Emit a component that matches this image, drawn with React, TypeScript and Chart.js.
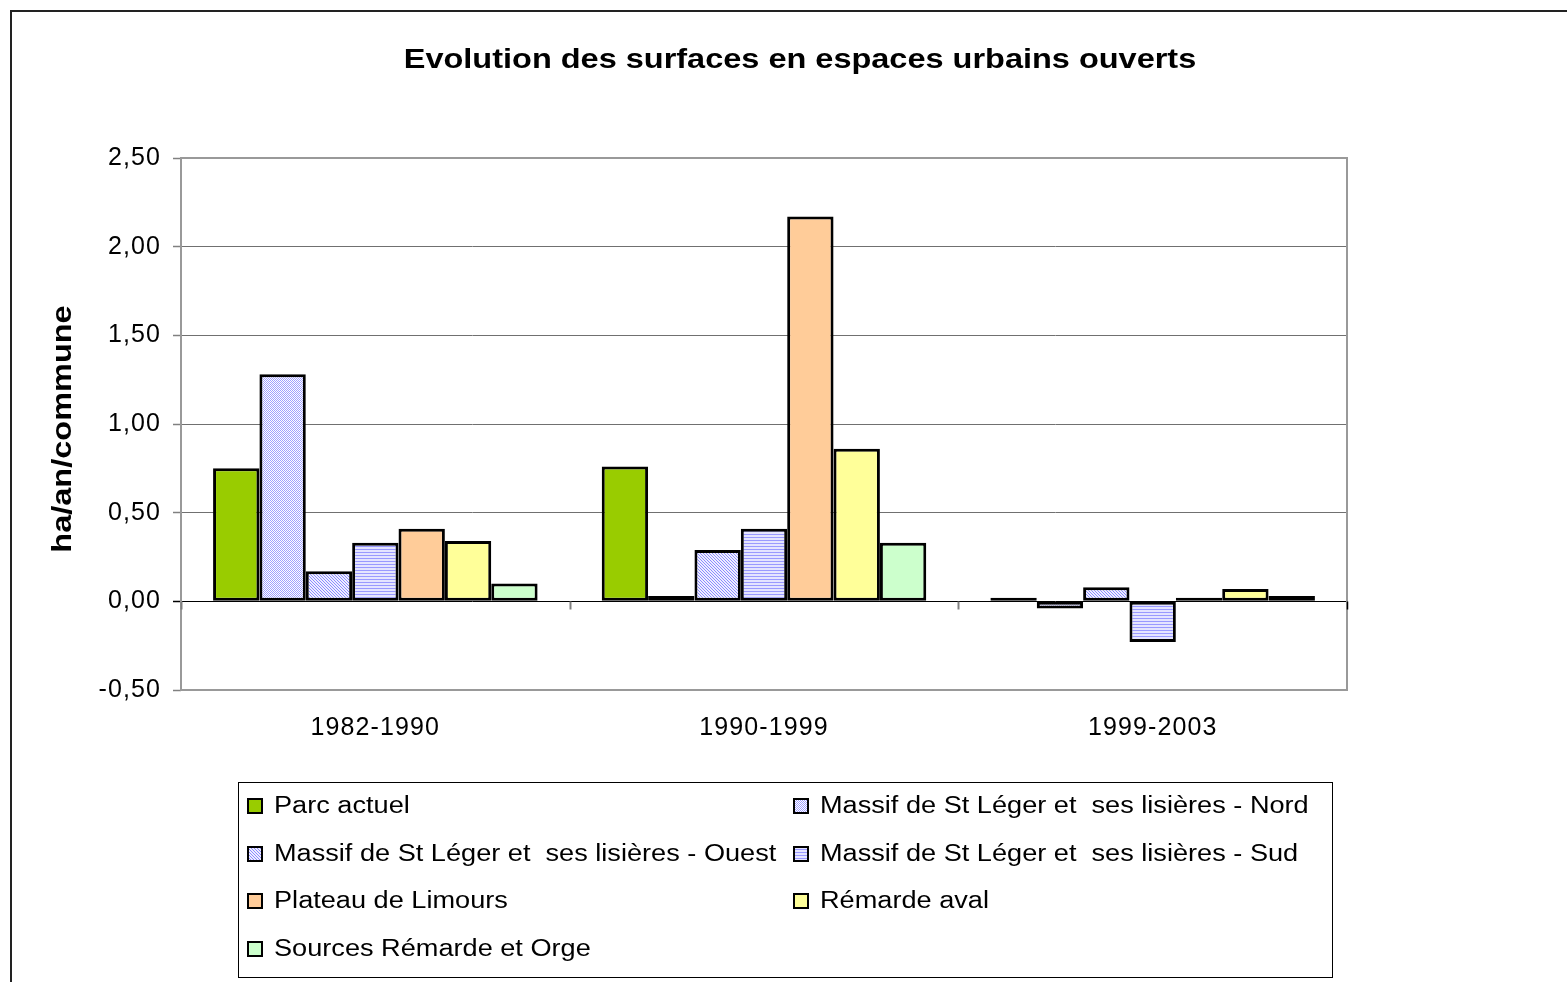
import React, { useEffect, useRef } from 'react';
import { Chart, registerables } from 'chart.js';

Chart.register(...registerables);

// ---- data ----
const categories = ['1982-1990', '1990-1999', '1999-2003'];
const seriesNames = [
  'Parc actuel',
  'Massif de St Léger et  ses lisières - Nord',
  'Massif de St Léger et  ses lisières - Ouest',
  'Massif de St Léger et  ses lisières - Sud',
  'Plateau de Limours',
  'Rémarde aval',
  'Sources Rémarde et Orge',
];
const parcActuel = [0.75, 0.76, 0.02];
const massifNord = [1.28, 0.03, -0.04];
const massifOuest = [0.17, 0.29, 0.08];
const massifSud = [0.33, 0.41, -0.23];
const plateauLimours = [0.41, 2.17, 0.02];
const remardeAval = [0.34, 0.86, 0.07];
const sourcesRemarde = [0.1, 0.33, 0.03];
const yTickValues = [-0.5, 0, 0.5, 1, 1.5, 2, 2.5];
const chartTitle = 'Evolution des surfaces en espaces urbains ouverts';
const yAxisTitle = 'ha/an/commune';

const FONT = "'Liberation Sans', Arial, sans-serif";

function makePattern(kind: string): CanvasPattern | string {
  const size = kind === 'nord' ? 2 : 3;
  const c = document.createElement('canvas');
  c.width = size;
  c.height = size;
  const g = c.getContext('2d');
  if (!g) return '#ccccff';
  if (kind === 'sud') {
    g.fillStyle = '#e4e4ff';
    g.fillRect(0, 0, size, size);
    g.fillStyle = '#9999ff';
    g.fillRect(0, 0, size, 1);
  } else if (kind === 'nord') {
    g.fillStyle = '#ffffff';
    g.fillRect(0, 0, size, size);
    g.fillStyle = '#a0a0ff';
    g.fillRect(0, 0, 1, 1);
    g.fillRect(1, 1, 1, 1);
  } else {
    g.fillStyle = '#eeeeff';
    g.fillRect(0, 0, size, size);
    g.fillStyle = '#8c8cff';
    for (let y = 0; y < size; y++) {
      for (let x = 0; x < size; x++) {
        if ((x - y + 3) % 3 === 0) g.fillRect(x, y, 1, 1);
      }
    }
  }
  const p = g.createPattern(c, 'repeat');
  return p || '#ccccff';
}

function stretchedText(ctx: CanvasRenderingContext2D, text: string, x: number, y: number, sx: number) {
  ctx.save();
  ctx.translate(x, y);
  ctx.scale(sx, 1);
  ctx.fillText(text, 0, 0);
  ctx.restore();
}

export default function App() {
  const ref = useRef<HTMLCanvasElement | null>(null);

  useEffect(() => {
    const canvas = ref.current;
    if (!canvas) return;

    const fills: (CanvasPattern | string)[] = [
      '#99cc00',
      makePattern('nord'),
      makePattern('ouest'),
      makePattern('sud'),
      '#ffcc99',
      '#ffff99',
      '#ccffcc',
    ];
    const values = [
      parcActuel,
      massifNord,
      massifOuest,
      massifSud,
      plateauLimours,
      remardeAval,
      sourcesRemarde,
    ];

    const decor = {
      id: 'decor',
      beforeDraw(chart: any) {
        chart.ctx.letterSpacing = '1.1px';
      },
      beforeDatasetsDraw(chart: any) {
        const { ctx, chartArea } = chart;
        const xs = chart.scales.x;
        const ys = chart.scales.y;
        ctx.save();
        // plot area border
        ctx.strokeStyle = '#999999';
        ctx.lineWidth = 2;
        ctx.strokeRect(chartArea.left, chartArea.top, chartArea.right - chartArea.left, chartArea.bottom - chartArea.top);
        // category tick marks on the zero line
        const zeroY = Math.round(ys.getPixelForValue(0)) + 0.5;
        for (let i = 0; i <= categories.length; i++) {
          const px = Math.round(xs.getPixelForValue(i - 0.5)) + 0.5;
          ctx.strokeStyle = i === categories.length ? '#000000' : '#808080';
          ctx.lineWidth = i === categories.length ? 1.5 : 2;
          ctx.beginPath();
          ctx.moveTo(px, zeroY);
          ctx.lineTo(px, zeroY + 8);
          ctx.stroke();
        }
        ctx.restore();
      },
      afterDraw(chart: any) {
        const { ctx } = chart;
        ctx.save();
        ctx.letterSpacing = '0px';
        // outer frame (top and left visible)
        ctx.strokeStyle = '#222222';
        ctx.lineWidth = 2;
        ctx.beginPath();
        ctx.moveTo(11, 982);
        ctx.lineTo(11, 11);
        ctx.lineTo(1567, 11);
        ctx.stroke();

        // title
        ctx.fillStyle = '#000000';
        ctx.font = `bold 28px ${FONT}`;
        ctx.textAlign = 'center';
        ctx.textBaseline = 'middle';
        stretchedText(ctx, chartTitle, 800, 60, 1.16);

        // y axis title
        ctx.save();
        ctx.translate(63, 429);
        ctx.rotate(-Math.PI / 2);
        ctx.font = `bold 28px ${FONT}`;
        stretchedText(ctx, yAxisTitle, 0, 0, 1.16);
        ctx.restore();

        // legend
        ctx.strokeStyle = '#000000';
        ctx.lineWidth = 1;
        ctx.strokeRect(238.5, 782.5, 1094, 195);
        ctx.font = `23px ${FONT}`;
        ctx.textAlign = 'left';
        ctx.textBaseline = 'middle';
        const colX = [248, 794];
        const rowY = [806, 854, 901, 949];
        seriesNames.forEach((name, i) => {
          const col = i % 2;
          const row = Math.floor(i / 2);
          const mx = colX[col];
          const my = rowY[row];
          ctx.fillStyle = fills[i] as any;
          ctx.fillRect(mx, my - 7, 14, 14);
          ctx.strokeStyle = '#000000';
          ctx.lineWidth = 2;
          ctx.strokeRect(mx, my - 7, 14, 14);
          ctx.fillStyle = '#000000';
          stretchedText(ctx, name, mx + 26, my + 1, 1.18);
        });
        ctx.restore();
      },
    };

    const chart = new Chart(canvas, {
      type: 'bar',
      data: {
        labels: categories,
        datasets: seriesNames.map((name, i) => ({
          label: name,
          data: values[i],
          backgroundColor: fills[i] as any,
          borderColor: '#000000',
          borderWidth: 3,
          borderSkipped: false,
          categoryPercentage: 0.835,
          barPercentage: 1,
        })),
      },
      options: {
        responsive: false,
        maintainAspectRatio: false,
        animation: false,
        events: [],
        layout: { padding: { left: 0, top: 158, right: 220, bottom: 232 } },
        plugins: {
          legend: { display: false },
          title: { display: false },
          tooltip: { enabled: false },
        },
        scales: {
          x: {
            type: 'category',
            offset: true,
            grid: { display: false, drawTicks: false },
            border: { display: false },
            ticks: {
              color: '#000000',
              padding: 23,
              font: { family: FONT, size: 25 },
              maxRotation: 0,
            },
            afterFit(scale: any) {
              scale.height = 60;
            },
          },
          y: {
            type: 'linear',
            min: -0.5,
            max: 2.5,
            afterBuildTicks(scale: any) {
              scale.ticks = yTickValues.map((v) => ({ value: v }));
            },
            grid: {
              color: (c: any) => (c.tick && c.tick.value === 0 ? '#000000' : '#707070'),
              tickColor: (c: any) => (c.tick && c.tick.value === 0 ? '#000000' : '#808080'),
              tickLength: 8,
              lineWidth: 1,
              tickWidth: 1.5,
            },
            border: { display: false },
            ticks: {
              color: '#000000',
              padding: 12,
              font: { family: FONT, size: 25 },
              callback: (v: any) => Number(v).toFixed(2).replace('.', ','),
            },
            afterFit(scale: any) {
              scale.width = 181;
            },
          },
        },
      },
      plugins: [decor],
    } as any);

    return () => {
      chart.destroy();
    };
  }, []);

  return (
    <div style={{ position: 'absolute', left: 0, top: 0, width: 1567, height: 982, background: '#ffffff', overflow: 'hidden' }}>
      <canvas ref={ref} width={1567} height={982} style={{ display: 'block', width: 1567, height: 982 }} />
    </div>
  );
}
